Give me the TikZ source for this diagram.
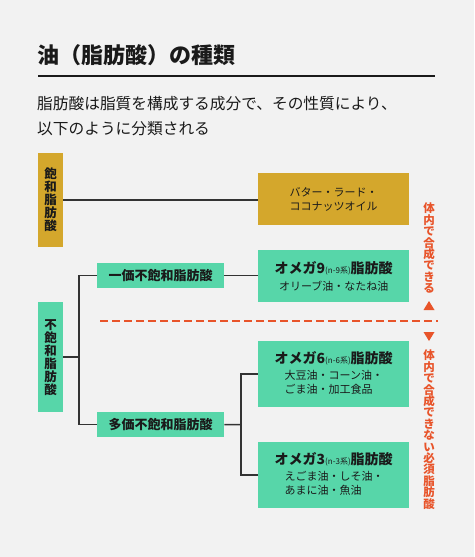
\documentclass[tikz,border=0pt]{standalone}
\usepackage{fontspec}
\setmainfont{Noto Sans CJK JP}
\definecolor{bg}{HTML}{F2F2F2}
\definecolor{gold}{HTML}{D4A72C}
\definecolor{mint}{HTML}{57D6A9}
\definecolor{orng}{HTML}{E8542A}
\definecolor{ink}{HTML}{1A1A1A}
\definecolor{wire}{HTML}{333333}
\begin{document}
\begin{tikzpicture}[x=1pt,y=-1pt,
  box/.style={anchor=north west,inner sep=0pt,text=ink,align=center},
  vlabel/.style={font=\bfseries\fontsize{12.5}{13}\selectfont},
  hlabel/.style={font=\bfseries\fontsize{13}{15}\selectfont},
  wirestyle/.style={draw=wire,line width=1.5pt},
  note/.style={text=orng,font=\bfseries\fontsize{11.5}{11.4}\selectfont,align=center,inner sep=0pt}]
\fill[bg] (0,0) rectangle (474,557);
\useasboundingbox (0,0) rectangle (474,557);
% title
\node[anchor=west,inner sep=0pt,text=ink,font=\bfseries\fontsize{22}{24}\selectfont] (title) at (37,55) {油（脂肪酸）の種類};
\draw[ink,line width=1.2pt] (38,76) -- (435,76);
\node[anchor=west,inner sep=0pt,text=ink,font=\fontsize{15.7}{25}\selectfont,align=left] (sub) at (37,116) {脂肪酸は脂質を構成する成分で、その性質により、\\以下のように分類される};
% left boxes
\node[box,fill=gold,minimum width=25pt,minimum height=94pt,vlabel] (sat) at (38,153) {飽\\和\\脂\\肪\\酸};
\node[box,fill=mint,minimum width=25pt,minimum height=110pt,vlabel] (unsat) at (38,302) {不\\飽\\和\\脂\\肪\\酸};
\node[box,fill=mint,minimum width=127pt,minimum height=25pt,hlabel] (mono) at (97,263) {一価不飽和脂肪酸};
\node[box,fill=mint,minimum width=127pt,minimum height=25pt,hlabel] (poly) at (97,412) {多価不飽和脂肪酸};
% right boxes
\node[box,fill=gold,minimum width=151pt,minimum height=52pt,align=left,font=\fontsize{11}{13.5}\selectfont] (butter) at (258,173) {バター・ラード・\\ココナッツオイル};
\node[box,fill=mint,minimum width=151pt,minimum height=52pt,font=\fontsize{11}{13.5}\selectfont] (o9) at (258,250) {{\bfseries\fontsize{14}{16}\selectfont オメガ9}{\fontsize{8}{8}\selectfont (n-9系)}{\bfseries\fontsize{14}{16}\selectfont 脂肪酸}\\[3pt]オリーブ油・なたね油};
\node[box,fill=mint,minimum width=151pt,minimum height=66pt,font=\fontsize{11}{13.5}\selectfont] (o6) at (258,341) {\begin{tabular}{@{}l@{}}\multicolumn{1}{@{}c@{}}{{\bfseries\fontsize{14}{16}\selectfont オメガ6}{\fontsize{8}{8}\selectfont (n-6系)}{\bfseries\fontsize{14}{16}\selectfont 脂肪酸}}\\[3pt]\hspace{10pt}大豆油・コーン油・\\\hspace{10pt}ごま油・加工食品\end{tabular}};
\node[box,fill=mint,minimum width=151pt,minimum height=66pt,font=\fontsize{11}{13.5}\selectfont] (o3) at (258,442) {\begin{tabular}{@{}l@{}}\multicolumn{1}{@{}c@{}}{{\bfseries\fontsize{14}{16}\selectfont オメガ3}{\fontsize{8}{8}\selectfont (n-3系)}{\bfseries\fontsize{14}{16}\selectfont 脂肪酸}}\\[3pt]\hspace{10pt}えごま油・しそ油・\\\hspace{10pt}あまに油・魚油\end{tabular}};
% connectors
\coordinate (j1) at (79,357);
\coordinate (j2) at (241,424.5);
\draw[wirestyle] (sat.east) -- (sat.east -| butter.west);
\draw[wirestyle] (unsat.east |- j1) -- (j1);
\draw[wirestyle] (mono.west) -| (j1);
\draw[wirestyle] (poly.west) -| (j1);
\draw[wirestyle] (mono.east) -- (mono.east -| o9.west);
\draw[wirestyle] (poly.east) -- (j2);
\draw[wirestyle] (o6.west) -| (j2);
\draw[wirestyle] (o3.west) -| (j2);
% dashed divider
\coordinate (dl) at (100,321);
\coordinate (dr) at (438,321);
\draw[orng,line width=1.8pt,dash pattern=on 8pt off 4pt] (dl) -- (dr);
% side notes
\node[note,anchor=north] (can) at (429,203) {体\\内\\で\\合\\成\\で\\き\\る};
\fill[orng] (423.5,310) -- (434.5,310) -- (429,301) -- cycle;
\fill[orng] (423.5,332) -- (434.5,332) -- (429,341) -- cycle;
\node[note,anchor=north] (cannot) at (429,350) {体\\内\\で\\合\\成\\で\\き\\な\\い\\必\\須\\脂\\肪\\酸};
\end{tikzpicture}
\end{document}
